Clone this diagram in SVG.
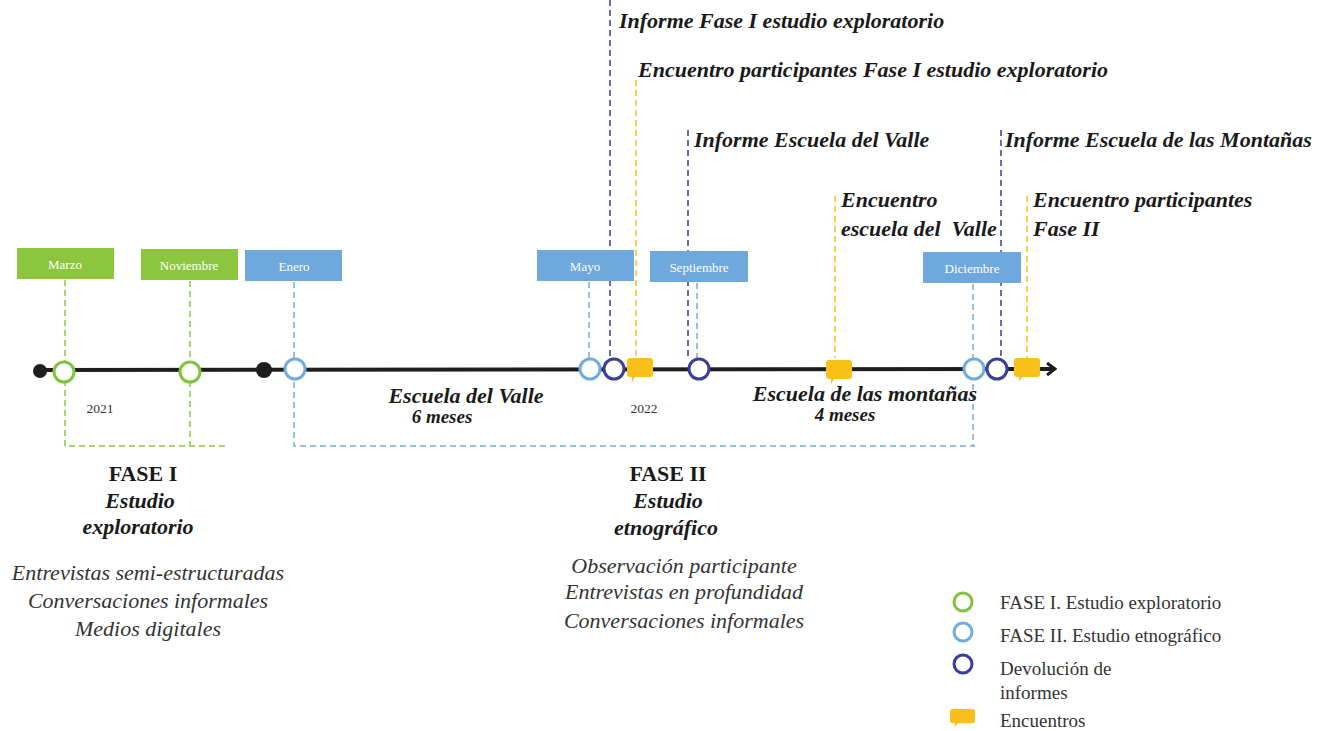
<svg xmlns="http://www.w3.org/2000/svg" width="1333" height="731" viewBox="0 0 1333 731">
  <defs>
    <style>
      .bg { fill: #ffffff; }
      .axis { stroke: #1e1e1e; stroke-width: 4; fill: none; }
      .dot { fill: #1e1e1e; }
      .c1 { fill: #ffffff; stroke: #80c241; stroke-width: 3; }
      .c2 { fill: #ffffff; stroke: #72acdc; stroke-width: 3; }
      .c3 { fill: #ffffff; stroke: #3a3d9a; stroke-width: 3; }
      .bubble { fill: #f9c01a; }
      .boxG { fill: #8cc63f; }
      .boxB { fill: #6fa8dc; }
      .month { font-family: "Liberation Serif", serif; font-size: 13px; fill: #ffffff; text-anchor: middle; }
      .dG { stroke: #8cc63f; stroke-width: 1.5; stroke-dasharray: 6 4; fill: none; }
      .dB { stroke: #72acdc; stroke-width: 1.5; stroke-dasharray: 6 4; fill: none; }
      .dN { stroke: #3a3d9a; stroke-width: 1.5; stroke-dasharray: 6 4; fill: none; }
      .dY { stroke: #f9c01a; stroke-width: 1.5; stroke-dasharray: 6 4; fill: none; }
      .lab { font-family: "Liberation Serif", serif; font-size: 22px; font-style: italic; font-weight: bold; fill: #1a1a1a; }
      .dur { font-family: "Liberation Serif", serif; font-size: 19px; font-style: italic; font-weight: bold; fill: #1a1a1a; text-anchor: middle; }
      .year { font-family: "Liberation Serif", serif; font-size: 13.5px; fill: #333333; text-anchor: middle; }
      .phase { font-family: "Liberation Serif", serif; font-size: 22px; font-weight: bold; fill: #1a1a1a; text-anchor: middle; }
      .phaseSub { font-family: "Liberation Serif", serif; font-size: 22px; font-weight: bold; font-style: italic; fill: #1a1a1a; text-anchor: middle; }
      .method { font-family: "Liberation Serif", serif; font-size: 22px; font-style: italic; fill: #333333; text-anchor: middle; }
      .leg { font-family: "Liberation Serif", serif; font-size: 19px; fill: #333333; }
    </style>
    <marker id="arrow" viewBox="0 0 12 14" refX="9" refY="7" markerWidth="12" markerHeight="14" markerUnits="userSpaceOnUse" orient="auto">
      <path d="M2,1 L10,7 L2,13" fill="none" stroke="#1e1e1e" stroke-width="3"/>
    </marker>
    <path id="bub" d="M3,0 H23 A3,3 0 0 1 26,3 V16 A3,3 0 0 1 23,19 H8 L5,24 L5,19 H3 A3,3 0 0 1 0,16 V3 A3,3 0 0 1 3,0 Z"/>
  </defs>

  <rect class="bg" x="0" y="0" width="1333" height="731"/>

  <!-- dashed guide lines -->
  <g id="connectors">
    <!-- phase I bracket -->
    <path class="dG" d="M65,280 V446 H228"/>
    <path class="dG" d="M190,281 V446"/>
    <!-- phase II bracket -->
    <path class="dB" d="M294,282 V446 H975"/>
    <path class="dB" d="M973,284 V446"/>
    <path class="dB" d="M589,282 V358"/>
    <path class="dB" d="M697,283 V358"/>
    <!-- report drops -->
    <path class="dN" d="M610,0 V358"/>
    <path class="dN" d="M688,130 V358"/>
    <path class="dN" d="M1001,130 V358"/>
    <!-- meeting drops -->
    <path class="dY" d="M636,80 V357"/>
    <path class="dY" d="M835,196 V358"/>
    <path class="dY" d="M1027,196 V358"/>
  </g>

  <!-- time axis -->
  <g id="axis">
    <line class="axis" x1="40" y1="370" x2="1054" y2="369" marker-end="url(#arrow)"/>
    <circle class="dot" cx="40" cy="371" r="7"/>
    <circle class="dot" cx="264" cy="370" r="8"/>
    <text class="year" x="100" y="413">2021</text>
    <text class="year" x="644" y="413">2022</text>
  </g>

  <!-- month labels -->
  <g id="m-marzo"><rect class="boxG" x="17" y="248" width="97" height="31"/><text class="month" x="65" y="269">Marzo</text></g>
  <g id="m-noviembre"><rect class="boxG" x="141" y="249" width="97" height="31"/><text class="month" x="189" y="270">Noviembre</text></g>
  <g id="m-enero"><rect class="boxB" x="245" y="250" width="97" height="31"/><text class="month" x="294" y="271">Enero</text></g>
  <g id="m-mayo"><rect class="boxB" x="537" y="250" width="97" height="31"/><text class="month" x="585" y="271">Mayo</text></g>
  <g id="m-septiembre"><rect class="boxB" x="650" y="251" width="98" height="31"/><text class="month" x="699" y="272">Septiembre</text></g>
  <g id="m-diciembre"><rect class="boxB" x="923" y="252" width="98" height="31"/><text class="month" x="972" y="273">Diciembre</text></g>

  <!-- phase I points -->
  <g id="p-marzo"><circle class="c1" cx="64" cy="372" r="10"/></g>
  <g id="p-noviembre"><circle class="c1" cx="190" cy="372" r="10"/></g>
  <!-- phase II points -->
  <g id="p-enero"><circle class="c2" cx="295" cy="369" r="10"/></g>
  <g id="p-mayo"><circle class="c2" cx="590" cy="369" r="10"/></g>
  <g id="p-diciembre"><circle class="c2" cx="974" cy="369" r="10"/></g>
  <!-- reports -->
  <g id="r-fase1"><circle class="c3" cx="614" cy="369" r="10"/></g>
  <g id="r-valle"><circle class="c3" cx="699" cy="369" r="10"/></g>
  <g id="r-montanas"><circle class="c3" cx="997" cy="369" r="10"/></g>
  <!-- meetings -->
  <g id="e-fase1"><use href="#bub" class="bubble" x="627" y="358"/></g>
  <g id="e-valle"><use href="#bub" class="bubble" x="826" y="360"/></g>
  <g id="e-fase2"><use href="#bub" class="bubble" x="1014" y="358"/></g>

  <!-- event captions -->
  <g id="captions">
    <text class="lab" x="619" y="28">Informe Fase I estudio exploratorio</text>
    <text class="lab" x="638" y="77">Encuentro participantes Fase I estudio exploratorio</text>
    <text class="lab" x="694" y="147">Informe Escuela del Valle</text>
    <text class="lab" x="1005" y="147">Informe Escuela de las Montañas</text>
    <text class="lab" x="841" y="207">Encuentro</text>
    <text class="lab" x="841" y="236" xml:space="preserve">escuela del  Valle</text>
    <text class="lab" x="1033" y="207">Encuentro participantes</text>
    <text class="lab" x="1033" y="236">Fase II</text>
    <text class="lab" x="466" y="403" text-anchor="middle">Escuela del Valle</text>
    <text class="dur" x="442" y="423">6 meses</text>
    <text class="lab" x="865" y="401" text-anchor="middle">Escuela de las montañas</text>
    <text class="dur" x="845" y="421">4 meses</text>
  </g>

  <!-- phase descriptions -->
  <g id="fase1">
    <text class="phase" x="143" y="481">FASE I</text>
    <text class="phaseSub" x="140" y="508">Estudio</text>
    <text class="phaseSub" x="138" y="534">exploratorio</text>
    <text class="method" x="148" y="580">Entrevistas semi-estructuradas</text>
    <text class="method" x="148" y="608">Conversaciones informales</text>
    <text class="method" x="148" y="636">Medios digitales</text>
  </g>
  <g id="fase2">
    <text class="phase" x="668" y="481">FASE II</text>
    <text class="phaseSub" x="668" y="508">Estudio</text>
    <text class="phaseSub" x="666" y="535">etnográfico</text>
    <text class="method" x="684" y="573">Observación participante</text>
    <text class="method" x="684" y="599">Entrevistas en profundidad</text>
    <text class="method" x="684" y="628">Conversaciones informales</text>
  </g>

  <!-- legend -->
  <g id="legend">
    <circle class="c1" cx="963" cy="602" r="9"/>
    <text class="leg" x="1000" y="609">FASE I. Estudio exploratorio</text>
    <circle class="c2" cx="963" cy="632" r="9"/>
    <text class="leg" x="1000" y="642">FASE II. Estudio etnográfico</text>
    <circle class="c3" cx="963" cy="664" r="9"/>
    <text class="leg" x="1000" y="675">Devolución de</text>
    <text class="leg" x="1000" y="699">informes</text>
    <use href="#bub" class="bubble" x="950" y="709" transform="translate(950 709) scale(0.96 0.75) translate(-950 -709)"/>
    <text class="leg" x="1000" y="727">Encuentros</text>
  </g>
</svg>
